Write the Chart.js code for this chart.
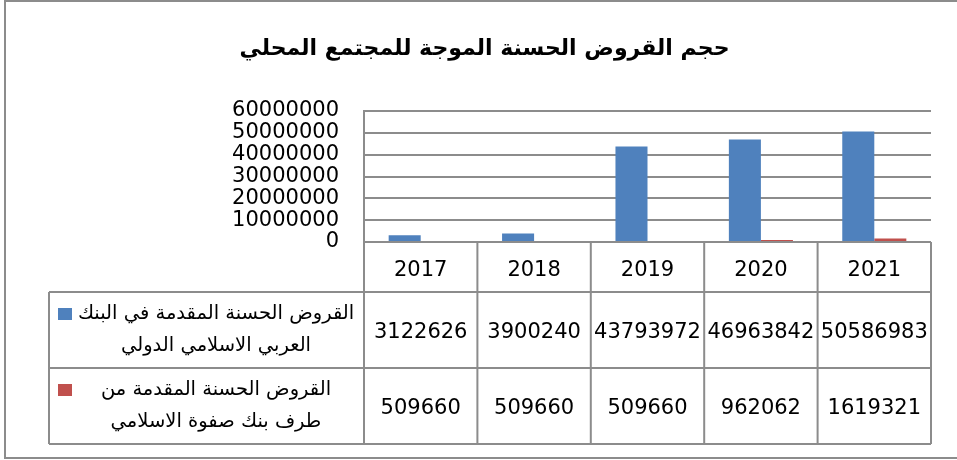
<!DOCTYPE html>
<html>
<head>
<meta charset="utf-8">
<script src="https://cdn.jsdelivr.net/npm/chart.js@4.4.0/dist/chart.umd.min.js"></script>
<style>
  html, body { margin: 0; padding: 0; background: #fff; }
  #wrap { width: 957px; height: 460px; }
</style>
</head>
<body>
<div id="wrap"><canvas id="loansChart"></canvas></div>
<script>
// data
const years = ['2017', '2018', '2019', '2020', '2021'];
const aibLoans = [3122626, 3900240, 43793972, 46963842, 50586983];
const safwaLoans = [509660, 509660, 509660, 962062, 1619321];
const aibLabel = ['القروض الحسنة المقدمة في البنك', 'العربي الاسلامي الدولي'];
const safwaLabel = ['القروض الحسنة المقدمة من', 'طرف بنك صفوة الاسلامي'];
const yMin = 0, yMax = 60000000, yStep = 10000000;
const chartTitle = 'حجم القروض الحسنة الموجة للمجتمع المحلي';

const gridGray = '#8c8c8c';
const numFont = '21px "DejaVu Sans"';

// excel style data table under the plot + outer frame
const dataTable = {
    id: 'dataTable',
    afterDraw(chart) {
        const ctx = chart.ctx;
        const xs = chart.scales.x;
        const area = chart.chartArea;
        const half = (xs.getPixelForValue(1) - xs.getPixelForValue(0)) / 2;
        const tableLeft = 49;
        const headTop = area.bottom;
        const rowTops = [headTop + 50, headTop + 126];
        const rowH = 76;
        const tableBottom = rowTops[1] + rowH;
        const right = xs.getPixelForValue(years.length - 1) + half;

        ctx.save();
        ctx.strokeStyle = gridGray;
        ctx.lineWidth = 2;
        ctx.beginPath();
        // row lines
        [rowTops[0], rowTops[1], tableBottom].forEach(y => {
            ctx.moveTo(tableLeft, y);
            ctx.lineTo(right, y);
        });
        // left edge of legend column
        ctx.moveTo(tableLeft, rowTops[0]);
        ctx.lineTo(tableLeft, tableBottom);
        // axis line down through table
        ctx.moveTo(area.left, area.top);
        ctx.lineTo(area.left, tableBottom);
        // category dividers
        years.forEach((y, i) => {
            const bx = xs.getPixelForValue(i) + half;
            ctx.moveTo(bx, headTop);
            ctx.lineTo(bx, tableBottom);
        });
        ctx.stroke();

        // outer chart frame
        ctx.strokeRect(5, 1, 960, 457);

        ctx.fillStyle = '#000';
        ctx.textAlign = 'center';
        ctx.textBaseline = 'middle';

        // header row: categories
        ctx.font = numFont;
        years.forEach((y, i) => {
            ctx.fillText(y, xs.getPixelForValue(i), headTop + 29);
        });

        // series rows
        const series = [
            { label: aibLabel, values: aibLoans, color: chart.data.datasets[0].backgroundColor },
            { label: safwaLabel, values: safwaLoans, color: chart.data.datasets[1].backgroundColor }
        ];
        series.forEach((s, r) => {
            const top = rowTops[r];
            ctx.fillStyle = s.color;
            ctx.fillRect(58, top + 16, 14, 12);
            ctx.fillStyle = '#000';
            ctx.font = '19.5px "DejaVu Sans"';
            ctx.fillText(s.label[0], 216, top + 22);
            ctx.fillText(s.label[1], 216, top + 54);
            ctx.font = numFont;
            s.values.forEach((v, i) => {
                ctx.fillText(String(v), xs.getPixelForValue(i), top + rowH / 2 + 3);
            });
        });
        ctx.restore();
    }
};

const ctx = document.getElementById('loansChart').getContext('2d');
const loansChart = new Chart(ctx, {
    type: 'bar',
    data: {
        labels: years,
        datasets: [{
            label: aibLabel.join(' '),
            data: aibLoans,
            backgroundColor: '#4f81bd'
        }, {
            label: safwaLabel.join(' '),
            data: safwaLoans,
            backgroundColor: '#c0504d'
        }]
    },
    options: {
        responsive: true,
        maintainAspectRatio: false,
        animation: false,
        layout: {
            padding: { left: 38, top: 0, right: 26, bottom: 218 }
        },
        datasets: {
            bar: { barPercentage: 1, categoryPercentage: 0.565 }
        },
        scales: {
            x: {
                grid: { display: false },
                border: { display: false },
                ticks: { display: false },
                afterFit(scale) { scale.height = 0; }
            },
            y: {
                min: yMin,
                max: yMax,
                grid: { color: gridGray, lineWidth: 2, drawTicks: false },
                border: { display: true, color: gridGray, width: 2 },
                ticks: {
                    stepSize: yStep,
                    autoSkip: false,
                    color: '#000',
                    font: { family: 'DejaVu Sans', size: 21 },
                    padding: 25,
                    callback: v => String(v)
                },
                afterFit(scale) { scale.width = 326; }
            }
        },
        plugins: {
            legend: { display: false },
            tooltip: { enabled: false },
            title: {
                display: true,
                text: chartTitle,
                color: '#000',
                font: { family: 'DejaVu Sans', size: 22, weight: 'bold' },
                padding: { top: 36, bottom: 48.6 }
            }
        }
    },
    plugins: [dataTable]
});
</script>
</body>
</html>
